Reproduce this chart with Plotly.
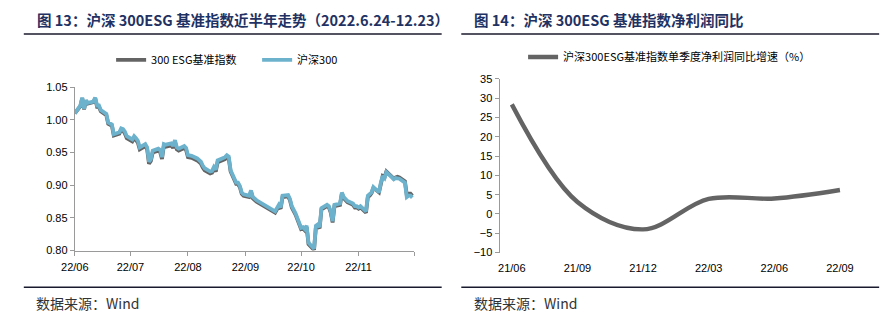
import plotly.graph_objects as go

W, H = 890, 325
FONT = "Liberation Sans, Arial, Noto Sans CJK SC"
CJK = "Noto Sans CJK SC, Liberation Sans"

# ---- Left panel: CSI 300 ESG benchmark vs CSI 300 (normalised), 2022-06-24 .. 2022-12-23
dates = [
    "2022-06-24", "2022-06-27", "2022-06-28", "2022-06-29", "2022-06-30", "2022-07-01",
    "2022-07-04", "2022-07-05", "2022-07-06", "2022-07-07", "2022-07-08", "2022-07-11",
    "2022-07-12", "2022-07-13", "2022-07-14", "2022-07-15", "2022-07-18", "2022-07-19",
    "2022-07-20", "2022-07-21", "2022-07-22", "2022-07-25", "2022-07-26", "2022-07-27",
    "2022-07-28", "2022-07-29", "2022-08-01", "2022-08-02", "2022-08-03", "2022-08-04",
    "2022-08-05", "2022-08-08", "2022-08-09", "2022-08-10", "2022-08-11", "2022-08-12",
    "2022-08-15", "2022-08-16", "2022-08-17", "2022-08-18", "2022-08-19", "2022-08-22",
    "2022-08-23", "2022-08-24", "2022-08-25", "2022-08-26", "2022-08-29", "2022-08-30",
    "2022-08-31", "2022-09-01", "2022-09-02", "2022-09-05", "2022-09-06", "2022-09-07",
    "2022-09-08", "2022-09-09", "2022-09-13", "2022-09-14", "2022-09-15", "2022-09-16",
    "2022-09-19", "2022-09-20", "2022-09-21", "2022-09-22", "2022-09-23", "2022-09-26",
    "2022-09-27", "2022-09-28", "2022-09-29", "2022-09-30", "2022-10-10", "2022-10-11",
    "2022-10-12", "2022-10-13", "2022-10-14", "2022-10-17", "2022-10-18", "2022-10-19",
    "2022-10-20", "2022-10-21", "2022-10-24", "2022-10-25", "2022-10-26", "2022-10-27",
    "2022-10-28", "2022-10-31", "2022-11-01", "2022-11-02", "2022-11-03", "2022-11-04",
    "2022-11-07", "2022-11-08", "2022-11-09", "2022-11-10", "2022-11-11", "2022-11-14",
    "2022-11-15", "2022-11-16", "2022-11-17", "2022-11-18", "2022-11-21", "2022-11-22",
    "2022-11-23", "2022-11-24", "2022-11-25", "2022-11-28", "2022-11-29", "2022-11-30",
    "2022-12-01", "2022-12-02", "2022-12-05", "2022-12-06", "2022-12-07", "2022-12-08",
    "2022-12-09", "2022-12-12", "2022-12-13", "2022-12-14", "2022-12-15", "2022-12-16",
    "2022-12-19", "2022-12-20", "2022-12-21", "2022-12-22", "2022-12-23",
]

hs300 = [
    1.010, 1.022, 1.034, 1.017, 1.030, 1.026,
    1.028, 1.034, 1.022, 1.022, 1.015, 1.009,
    0.996, 0.994, 0.993, 0.978, 0.981, 0.987,
    0.986, 0.982, 0.975, 0.970, 0.975, 0.972,
    0.968, 0.958, 0.963, 0.958, 0.936, 0.940,
    0.953, 0.956, 0.954, 0.943, 0.963, 0.962,
    0.964, 0.960, 0.969, 0.958, 0.956, 0.960,
    0.957, 0.946, 0.946, 0.945, 0.941, 0.938,
    0.936, 0.930, 0.926, 0.921, 0.922, 0.928,
    0.924, 0.938, 0.943, 0.946, 0.944, 0.923,
    0.904, 0.904, 0.899, 0.889, 0.886, 0.884,
    0.892, 0.882, 0.880, 0.877, 0.860, 0.866,
    0.870, 0.866, 0.884, 0.885, 0.879, 0.868,
    0.862, 0.857, 0.835, 0.836, 0.833, 0.838,
    0.812, 0.803, 0.838, 0.840, 0.836, 0.865,
    0.870, 0.868, 0.860, 0.845, 0.870, 0.872,
    0.889, 0.882, 0.879, 0.876, 0.872, 0.868,
    0.868, 0.866, 0.868, 0.860, 0.884, 0.886,
    0.889, 0.897, 0.889, 0.904, 0.914, 0.911,
    0.920, 0.912, 0.909, 0.911, 0.911, 0.910,
    0.904, 0.882, 0.884, 0.884, 0.881,
]

esg300 = [
    1.010, 1.021, 1.033, 1.016, 1.029, 1.025,
    1.027, 1.033, 1.020, 1.020, 1.013, 1.007,
    0.994, 0.992, 0.991, 0.976, 0.979, 0.985,
    0.984, 0.979, 0.972, 0.967, 0.972, 0.969,
    0.965, 0.955, 0.960, 0.955, 0.933, 0.937,
    0.950, 0.953, 0.951, 0.940, 0.960, 0.959,
    0.961, 0.957, 0.966, 0.955, 0.953, 0.957,
    0.954, 0.943, 0.943, 0.942, 0.938, 0.935,
    0.933, 0.927, 0.923, 0.918, 0.919, 0.925,
    0.921, 0.935, 0.940, 0.943, 0.941, 0.921,
    0.902, 0.902, 0.897, 0.887, 0.884, 0.882,
    0.890, 0.880, 0.878, 0.875, 0.858, 0.864,
    0.868, 0.864, 0.882, 0.883, 0.877, 0.866,
    0.860, 0.855, 0.833, 0.834, 0.831, 0.836,
    0.810, 0.801, 0.836, 0.838, 0.834, 0.863,
    0.868, 0.866, 0.858, 0.843, 0.868, 0.870,
    0.887, 0.880, 0.877, 0.874, 0.870, 0.866,
    0.866, 0.864, 0.866, 0.858, 0.882, 0.884,
    0.888, 0.896, 0.889, 0.904, 0.914, 0.912,
    0.921, 0.913, 0.910, 0.912, 0.913, 0.912,
    0.906, 0.885, 0.887, 0.887, 0.884,
]

month_ticks = ["2022-06-24", "2022-07-24", "2022-08-24", "2022-09-24",
               "2022-10-24", "2022-11-24", "2022-12-24"]
month_labels = ["22/06", "22/07", "22/08", "22/09", "22/10", "22/11", ""]
left_yticks = [0.80, 0.85, 0.90, 0.95, 1.00, 1.05]

# ---- Right panel: quarterly net profit YoY growth of the ESG benchmark (%)
quarters = ["21/06", "21/09", "21/12", "22/03", "22/06", "22/09"]
profit_yoy = [28.4, 3.1, -4.0, 3.9, 4.0, 6.2]
right_yticks = [-10, -5, 0, 5, 10, 15, 20, 25, 30, 35]

GREY = "#646464"
BLUE = "#6DB2CD"
NAVY = "#1F3263"
AXIS = "#9A9A9A"


def px_x(p):
    return p / W


def px_y(p):
    return 1 - p / H


fig = go.Figure()

fig.add_trace(go.Scatter(
    x=dates, y=esg300, mode="lines", name="300 ESG基准指数",
    line=dict(color=GREY, width=3.8), xaxis="x", yaxis="y", legend="legend",
))
fig.add_trace(go.Scatter(
    x=dates, y=hs300, mode="lines", name="沪深300",
    line=dict(color=BLUE, width=3.8), xaxis="x", yaxis="y", legend="legend",
))

qx = list(range(len(quarters)))
fig.add_trace(go.Scatter(
    x=qx, y=profit_yoy, mode="lines", name="沪深300ESG基准指数单季度净利润同比增速（%）",
    line=dict(color=GREY, width=4.4, shape="spline", smoothing=1.0),
    xaxis="x2", yaxis="y2", legend="legend2",
))

# right-panel tick marks sit a little before each quarter's point
TICK_SHIFT = 0.164
r_lo, r_hi = -0.187, 5.164
r_bottom, r_top = px_y(256), px_y(75.7)
zero_pos = r_bottom + (r_top - r_bottom) * (0 - right_yticks[0]) / (right_yticks[-1] - right_yticks[0])

tick_font = dict(family=FONT, size=11, color="#000000")

fig.update_layout(
    width=W, height=H,
    margin=dict(l=0, r=0, t=0, b=0),
    paper_bgcolor="white", plot_bgcolor="white",
    font=dict(family=FONT, size=11, color="#000000"),
    xaxis=dict(
        domain=[px_x(62), px_x(408)], anchor="y", type="date",
        range=["2022-06-24", "2022-12-24"],
        tickmode="array", tickvals=month_ticks, ticktext=month_labels,
        ticks="outside", ticklen=4, tickcolor=AXIS, ticklabelstandoff=2,
        showline=True, linecolor=AXIS, linewidth=1,
        showgrid=False, zeroline=False, tickfont=tick_font,
    ),
    yaxis=dict(
        domain=[px_y(254), px_y(84.3)], anchor="x",
        range=[left_yticks[0], left_yticks[-1]],
        tickmode="array", tickvals=left_yticks,
        tickformat=".2f", ticks="outside", ticklen=4, tickcolor=AXIS,
        showline=True, linecolor=AXIS, linewidth=1,
        showgrid=False, zeroline=False, tickfont=tick_font,
    ),
    xaxis2=dict(
        domain=[px_x(495), px_x(853)], anchor="y2",
        range=[r_lo, r_hi],
        tickmode="array", tickvals=qx, ticktext=quarters,
        ticks="", ticklabelstandoff=7,
        showline=False, showgrid=False, zeroline=False,
        tickfont=tick_font,
    ),
    xaxis3=dict(
        domain=[px_x(495), px_x(853)], anchor="free", position=zero_pos,
        overlaying="x2", range=[r_lo, r_hi],
        tickmode="array", tickvals=[q - TICK_SHIFT for q in qx],
        ticks="outside", ticklen=4, tickcolor=AXIS,
        showticklabels=False, showline=True, linecolor=AXIS, linewidth=1,
        showgrid=False, zeroline=False,
    ),
    yaxis2=dict(
        domain=[r_bottom, r_top], anchor="x2",
        range=[right_yticks[0], right_yticks[-1]],
        tickmode="array", tickvals=right_yticks,
        ticks="outside", ticklen=4, tickcolor=AXIS,
        showline=True, linecolor=AXIS, linewidth=1,
        showgrid=False, zeroline=False, tickfont=tick_font,
    ),
    legend=dict(
        orientation="h", x=px_x(99), y=px_y(56), xanchor="left", yanchor="middle",
        font=dict(family=CJK, size=11, color="#000000"),
        bgcolor="rgba(0,0,0,0)", itemwidth=30, traceorder="normal",
        entrywidth=101, entrywidthmode="pixels",
    ),
    legend2=dict(
        orientation="h", x=px_x(519), y=px_y(53), xanchor="left", yanchor="middle",
        font=dict(family=CJK, size=11, color="#000000"),
        bgcolor="rgba(0,0,0,0)", itemwidth=30,
    ),
    showlegend=True,
)

# titles, rules and source notes
title_font = dict(family=CJK, size=14.5, color=NAVY)
fig.add_annotation(x=px_x(21), y=px_y(14), xref="paper", yref="paper",
                   xanchor="left", yanchor="middle", showarrow=False, align="left",
                   text="<b>图 13：沪深 300ESG 基准指数近半年走势（2022.6.24-12.23）</b>",
                   font=title_font)
fig.add_annotation(x=px_x(467), y=px_y(14), xref="paper", yref="paper",
                   xanchor="left", yanchor="middle", showarrow=False, align="left",
                   text="<b>图 14：沪深 300ESG 基准指数净利润同比</b>",
                   font=title_font)

src_font = dict(family=CJK, size=14, color="#333333")
for x0 in (20, 467):
    fig.add_annotation(x=px_x(x0), y=px_y(308), xref="paper", yref="paper",
                       xanchor="left", yanchor="middle", showarrow=False, align="left",
                       text="数据来源：Wind", font=src_font)

for x0, x1 in ((10, 436), (456, 882)):
    for yy in (29, 292):
        fig.add_shape(type="line", xref="paper", yref="paper",
                      x0=px_x(x0), x1=px_x(x1), y0=px_y(yy), y1=px_y(yy),
                      line=dict(color="#1A1A2E", width=1.5))

fig.write_html("out.html")
